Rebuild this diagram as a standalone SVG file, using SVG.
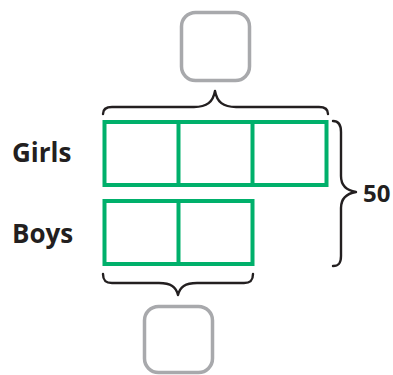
<svg xmlns="http://www.w3.org/2000/svg" width="393" height="375" viewBox="0 0 393 375">
<style>
.box{fill:none;stroke:#a8a9ac;stroke-width:3.5}
.bar{fill:none;stroke:#00b06b;stroke-width:4}
.brace{fill:none;stroke:#231f20;stroke-width:2.4;stroke-linecap:round;stroke-linejoin:round}
.lbl{font-family:"Open Sans","Liberation Sans",sans-serif;font-weight:bold;font-size:26px;fill:#231f20}
</style>
<rect width="393" height="375" fill="#fff"/>
<g id="top-box"><rect class="box" x="181.5" y="12.5" width="68" height="68" rx="14"/></g>
<g id="bottom-box"><rect class="box" x="144.5" y="306.5" width="68" height="66" rx="14"/></g>
<g id="girls-bar">
<rect class="bar" x="104.5" y="122" width="222" height="63"/>
<line class="bar" x1="178.5" y1="122" x2="178.5" y2="185"/>
<line class="bar" x1="252.5" y1="122" x2="252.5" y2="185"/>
</g>
<g id="boys-bar">
<rect class="bar" x="104.5" y="201" width="148" height="63"/>
<line class="bar" x1="178.5" y1="201" x2="178.5" y2="264"/>
</g>
<g id="labels">
<text class="lbl" x="12" y="162">Girls</text>
<text class="lbl" x="12" y="243">Boys</text>
<text class="lbl" x="363" y="202" style="font-size:24px">50</text>
</g>
<g id="connectors">
<path class="brace" d="M103,114 C103,109 106,107 112,107 L194,107 C207,107 213,102 215,91 C217,102 223,107 236,107 L319,107 C325,107 328,109 328,114"/>
<path class="brace" d="M103,274 C103,281 106,283 112,283 L159,283 C171,283 176,287 178,295 C180,287 185,283 197,283 L244,283 C250,283 253,281 253,274"/>
<path class="brace" d="M333,121 C339,121 341,125 341,132 L341,176 C341,186 347,190.5 356,192 C347,193.5 341,198 341,208 L341,256 C341,263 339,266 333,266"/>
</g>
</svg>
